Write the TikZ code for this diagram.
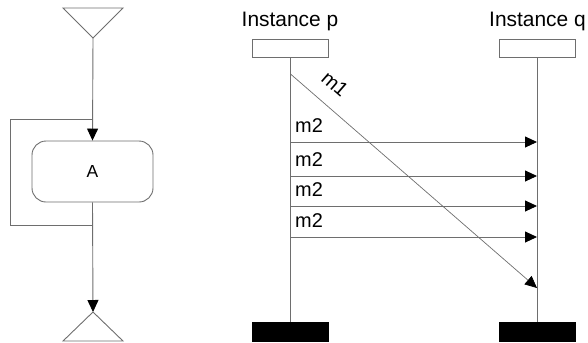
\documentclass[tikz,border=0pt]{standalone}
\usepackage{fontspec}
\setmainfont{Liberation Sans}
\usetikzlibrary{arrows.meta}
\definecolor{ln}{RGB}{110,110,110}
\begin{document}
\begin{tikzpicture}[x=1bp,y=-1bp,
  line/.style={draw=ln,line width=0.9bp},
  arr/.style={line,-{Triangle[length=12bp,width=11bp]},arrows={[color=black]}},
  rbox/.style={line,fill=white,rounded corners=14bp,minimum width=121bp,minimum height=61bp,inner sep=0pt,font=\fontsize{17.5}{20}\selectfont},
  headbox/.style={line,fill=white,minimum width=76bp,minimum height=18bp,inner sep=0pt},
  endbox/.style={fill=black,minimum width=77bp,minimum height=20bp,inner sep=0pt},
  ttl/.style={inner sep=0pt,font=\fontsize{21}{24}\selectfont},
  msg/.style={inner sep=0pt,anchor=base west,font=\fontsize{20}{23}\selectfont}]
\useasboundingbox (0,0) rectangle (588,342);
% left flow
\coordinate (tt) at (93,38);
\draw[line] (63,8) -- (123,8) -- (tt) -- cycle;
\node[rbox] (A) at (92.5,171.5) {A};
\coordinate (lt) at (93,119);
\coordinate (ltl) at (10,119);
\coordinate (lbl) at (10,225);
\coordinate (lb) at (93,225);
\draw[arr] (tt) -- (A.north);
\draw[line] (lt) -- (ltl) -- (lbl) -- (lb);
\coordinate (bt) at (93,312);
\draw[arr] (A.south) -- (bt);
\draw[line] (bt) -- (63,341) -- (123,341) -- cycle;
% sequence diagram
\node[ttl] (ip) at (290,21) {Instance p};
\node[ttl] (iq) at (537.5,21) {Instance q};
\node[headbox] (p) at (290.5,48) {};
\node[headbox] (q) at (537,48) {};
\node[endbox] (pe) at (290.5,332) {};
\node[endbox] (qe) at (537,332) {};
\draw[line] (p.south) -- (pe.north);
\draw[line] (q.south) -- (qe.north);
\coordinate (p1) at (290.5,74);
\coordinate (q1) at (537,288);
\draw[arr,line width=0.7bp] (p1) -- (q1);
\node[inner sep=0pt,rotate=-41,font=\fontsize{20}{23}\selectfont] (m1) at (335,84) {m1};
\foreach \i/\y in {1/142,2/176,3/206,4/237}{
  \coordinate (pa\i) at (290.5,\y);
  \coordinate (qa\i) at (537,\y);
  \draw[arr] (pa\i) -- (qa\i);
  \node[msg] (l\i) at (295,\y-10) {m2};
}
\end{tikzpicture}
\end{document}
